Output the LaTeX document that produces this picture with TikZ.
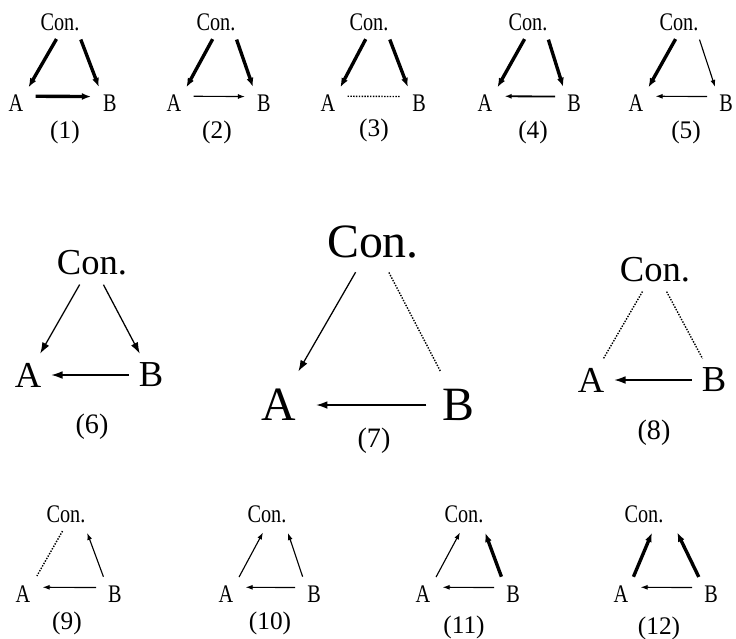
\documentclass[tikz,border=0pt]{standalone}
\usepackage{fontspec}
\setmainfont{Liberation Serif}
\newfontfamily\narrowserif{Liberation Serif}[FakeStretch=0.8]
\usetikzlibrary{arrows.meta}

\begin{document}
\begin{tikzpicture}[
        x=0.025cm, y=-0.025cm,
        txt/.style={font=\narrowserif\fontsize{18}{21}\selectfont, inner sep=1.5pt},
        con/.style={txt, inner xsep=-1pt},
        txtm/.style={font=\fontsize{26}{31}\selectfont, inner sep=2pt},
        txtl/.style={font=\fontsize{34}{40}\selectfont, inner sep=2pt},
        num/.style={font=\fontsize{18}{21}\selectfont},
        numm/.style={font=\fontsize{20}{24}\selectfont},
        thickarr/.style={-{Latex[length=6.5pt,width=5pt]}, line width=2.4pt},
        thinarr/.style={-{Latex[length=5pt,width=3.5pt]}, line width=0.8pt},
        midarr/.style={-{Latex[length=8pt,width=5.5pt]}, line width=0.9pt},
        unk/.style={dash pattern=on 1pt off 1pt, line width=1pt},
        hgap/.style={shorten <=7pt, shorten >=7pt}
    ]
    \useasboundingbox (0,0) rectangle (736,638);

    \begin{scope}[shorten <=5pt, shorten >=4pt]
        \node[con] (c1) at (60,22) {Con.};
        \node[txt] (a1) at (16,103) {A};
        \node[txt] (b1) at (110,103) {B};
        \node[num] (n1) at (65,132) {(1)};
        \draw[thickarr] (c1.south) -- (a1.north east);
        \draw[thickarr] (c1.south east) -- (b1.north west);
        \draw[thickarr, hgap] (a1.35) -- (b1.145);

        \node[con] (c2) at (216,22) {Con.};
        \node[txt] (a2) at (174,103) {A};
        \node[txt] (b2) at (264,103) {B};
        \node[num] (n2) at (217,132) {(2)};
        \draw[thickarr] (c2.south) -- (a2.north east);
        \draw[thickarr] (c2.south east) -- (b2.north west);
        \draw[thinarr, hgap] (a2.35) -- (b2.145);

        \node[con] (c3) at (369,22) {Con.};
        \node[txt] (a3) at (328,103) {A};
        \node[txt] (b3) at (419,103) {B};
        \node[num] (n3) at (374,130) {(3)};
        \draw[thickarr] (c3.south) -- (a3.north east);
        \draw[thickarr] (c3.south east) -- (b3.north west);
        \draw[unk, hgap] (a3.35) -- (b3.145);

        \node[con] (c4) at (528,22) {Con.};
        \node[txt] (a4) at (485,103) {A};
        \node[txt] (b4) at (574,103) {B};
        \node[num] (n4) at (533,132) {(4)};
        \draw[thickarr] (c4.south) -- (a4.north east);
        \draw[thickarr] (c4.south east) -- (b4.north west);
        \draw[thinarr, line width=1.3pt, hgap] (b4.145) -- (a4.35);

        \node[con] (c5) at (679,22) {Con.};
        \node[txt] (a5) at (636,103) {A};
        \node[txt] (b5) at (726,103) {B};
        \node[num] (n5) at (686,132) {(5)};
        \draw[thickarr] (c5.south) -- (a5.north east);
        \draw[thinarr] (c5.south east) -- (b5.north west);
        \draw[thinarr, hgap] (b5.145) -- (a5.35);
    \end{scope}

    \begin{scope}[shorten <=5pt, shorten >=5pt]
        \node[txtm] (c6) at (92,263) {Con.};
        \node[txtm] (a6) at (28,375) {A};
        \node[txtm] (b6) at (151,375) {B};
        \node[numm] (n6) at (92,427) {(6)};
        \draw[midarr] (c6) -- (a6);
        \draw[midarr] (c6) -- (b6);
        \draw[midarr] (b6) -- (a6);

        \node[txtm] (c8) at (655,270) {Con.};
        \node[txtm] (a8) at (591,380) {A};
        \node[txtm] (b8) at (714,380) {B};
        \node[numm] (n8) at (654,433) {(8)};
        \draw[unk] (c8) -- (a8);
        \draw[unk] (c8) -- (b8);
        \draw[midarr] (b8) -- (a8);
    \end{scope}

    \begin{scope}[shorten <=9pt, shorten >=12pt]
        \node[txtl] (c7) at (373,242) {Con.};
        \node[txtl] (a7) at (279,405) {A};
        \node[txtl] (b7) at (458,405) {B};
        \node[numm] (n7) at (374,441) {(7)};
        \draw[midarr] (c7) -- (a7);
        \draw[unk] (c7) -- (b7);
        \draw[midarr] (b7) -- (a7);
    \end{scope}

    \begin{scope}[shorten <=5pt, shorten >=6pt]
        \node[con] (c9) at (66,514) {Con.};
        \node[txt] (a9) at (23,594) {A};
        \node[txt] (b9) at (115,594) {B};
        \node[num] (n9) at (67,623) {(9)};
        \draw[unk] (c9.south) -- (a9.north east);
        \draw[thinarr] (b9.north west) -- (c9.south east);
        \draw[thinarr, hgap] (b9.145) -- (a9.35);

        \node[con] (c10) at (267,514) {Con.};
        \node[txt] (a10) at (226,594) {A};
        \node[txt] (b10) at (314,594) {B};
        \node[num] (n10) at (270,623) {(10)};
        \draw[thinarr] (a10.north east) -- (c10.south);
        \draw[thinarr] (b10.north west) -- (c10.south east);
        \draw[thinarr, hgap] (b10.145) -- (a10.35);

        \node[con] (c11) at (464,514) {Con.};
        \node[txt] (a11) at (423,594) {A};
        \node[txt] (b11) at (513,594) {B};
        \node[num] (n11) at (464,627) {(11)};
        \draw[thinarr] (a11.north east) -- (c11.south);
        \draw[thickarr] (b11.north west) -- (c11.south east);
        \draw[thinarr, hgap] (b11.145) -- (a11.35);

        \node[con] (c12) at (644,514) {Con.};
        \node[txt] (a12) at (621,594) {A};
        \node[txt] (b12) at (711,594) {B};
        \node[num] (n12) at (659,628) {(12)};
        \draw[thickarr] (a12.north east) -- ([xshift=8pt]c12.south);
        \draw[thickarr] (b12.north west) -- ([xshift=8pt]c12.south east);
        \draw[thinarr, hgap] (b12.145) -- (a12.35);
    \end{scope}
\end{tikzpicture}
\end{document}
